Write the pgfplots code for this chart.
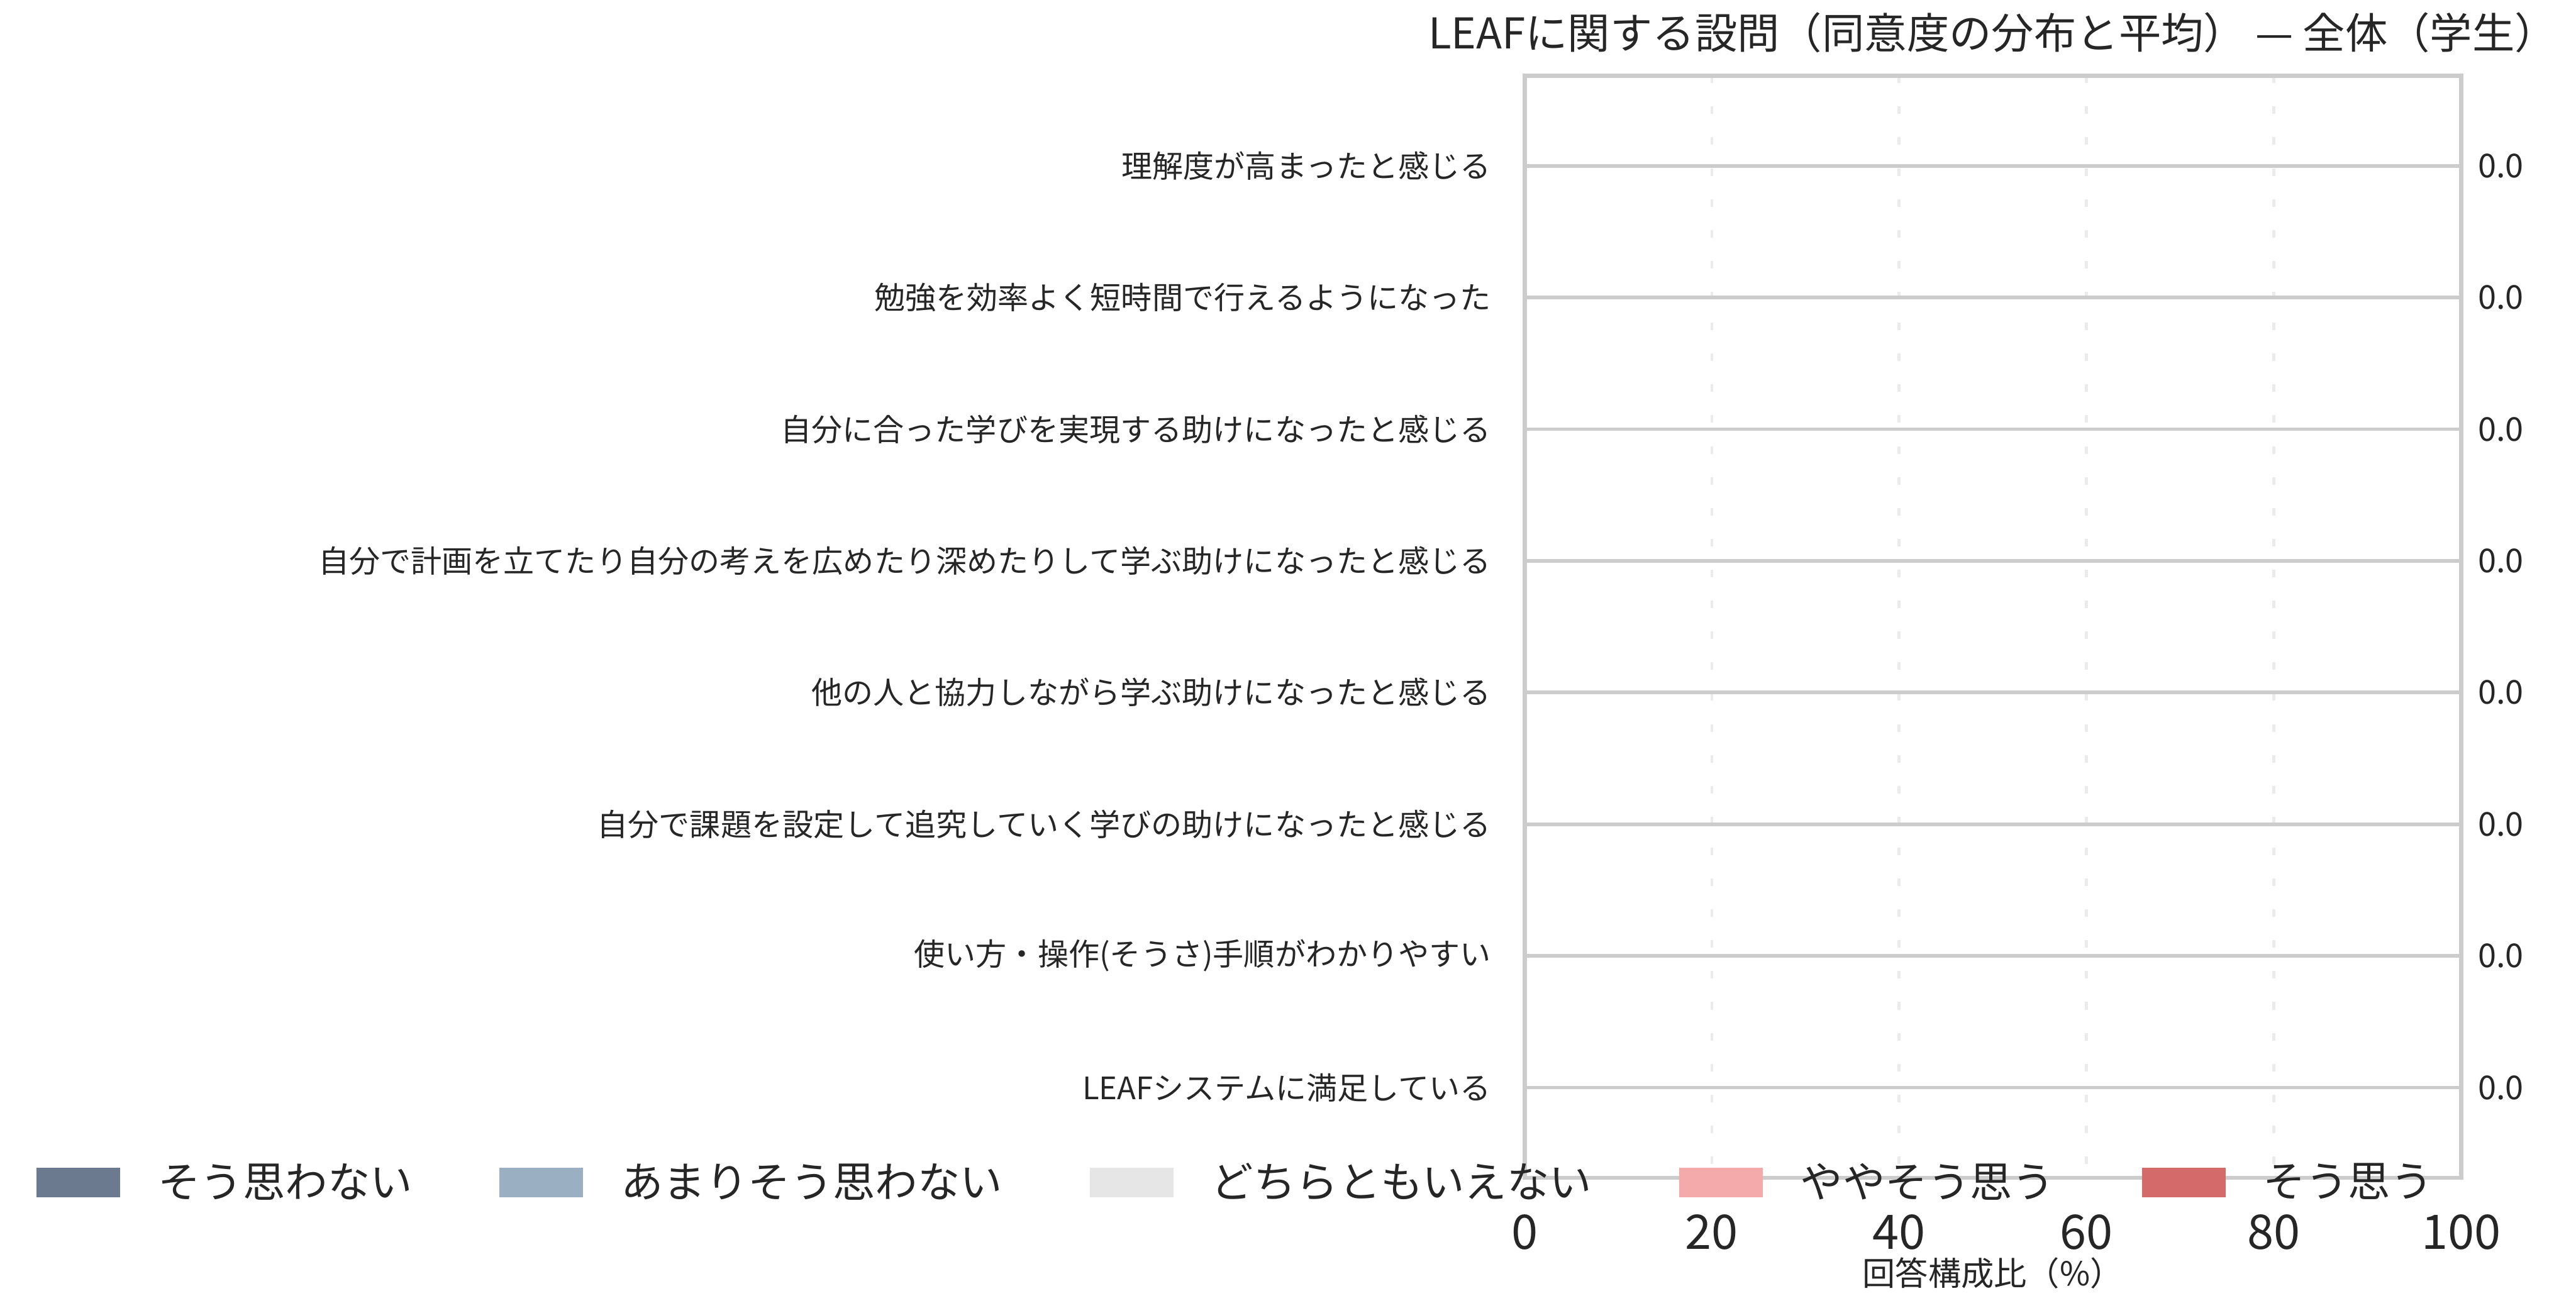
\documentclass[border=0pt]{standalone}
\usepackage{pgfplots}
\pgfplotsset{compat=1.18}
\usepackage{pgfplotstable}
\usepackage{fontspec}
\setmainfont{Noto Sans CJK JP}
\definecolor{cA}{HTML}{6B7A8F}
\definecolor{cB}{HTML}{9BAFC2}
\definecolor{cC}{HTML}{E6E6E6}
\definecolor{cD}{HTML}{F4AAAA}
\definecolor{cE}{HTML}{D46A6A}
\definecolor{axgray}{HTML}{CCCCCC}
\definecolor{gridgray}{HTML}{EBEBEB}
\definecolor{txt}{HTML}{262626}
\pgfplotstableread{
y v1 v2 v3 v4 v5
0 0 0 0 0 0
1 0 0 0 0 0
2 0 0 0 0 0
3 0 0 0 0 0
4 0 0 0 0 0
5 0 0 0 0 0
6 0 0 0 0 0
7 0 0 0 0 0
}\dist
\pgfplotstableread{
x y m
100 0 0.0
100 1 0.0
100 2 0.0
100 3 0.0
100 4 0.0
100 5 0.0
100 6 0.0
100 7 0.0
}\means
\begin{document}
\begin{tikzpicture}
\begin{axis}[
  name=main,
  scale only axis,
  width=285pt, height=335.5pt,
  xbar stacked, bar width=20pt,
  xmin=0, xmax=100, ymin=-0.686, ymax=7.686,
  y dir=reverse,
  xtick={0,20,40,60,80,100},
  ytick={0,1,2,3,4,5,6,7},
  yticklabels={理解度が高まったと感じる,勉強を効率よく短時間で行えるようになった,自分に合った学びを実現する助けになったと感じる,自分で計画を立てたり自分の考えを広めたり深めたりして学ぶ助けになったと感じる,他の人と協力しながら学ぶ助けになったと感じる,自分で課題を設定して追究していく学びの助けになったと感じる,使い方・操作(そうさ)手順がわかりやすい,LEAFシステムに満足している},
  major tick length=0pt,
  axis line style={axgray, line width=1.3pt},
  xmajorgrids, ymajorgrids,
  x grid style={gridgray, line width=0.9pt, dash pattern=on 2.3pt off 7.1pt},
  y grid style={axgray, line width=1.1pt},
  /pgf/number format/assume math mode=true,
  xticklabel style={font=\fontsize{14.5}{16}\selectfont, text=txt, inner sep=0pt, yshift=-11pt},
  yticklabel style={font=\fontsize{9.4}{11}\selectfont, text=txt, inner sep=0pt, xshift=-10pt},
  xlabel={回答構成比（\%）},
  xlabel style={at={(axis description cs:0.5,0)}, anchor=north, yshift=-24pt, inner sep=0pt, font=\fontsize{10}{12}\selectfont, text=txt},
  title={LEAFに関する設問（同意度の分布と平均） — 全体（学生）},
  title style={at={(axis description cs:0.5,1)}, anchor=center, yshift=7pt, inner sep=0pt, font=\fontsize{12.9}{14}\selectfont, text=txt},
  legend columns=5,
  legend image code/.code={\fill[#1] (0pt,-4.5pt) rectangle (25.5pt,4.5pt);},
  legend style={at={(axis description cs:-1.589,-0.0045)}, anchor=west, draw=none, fill=none, inner sep=0pt, outer sep=0pt,
    font=\fontsize{12.9}{14}\selectfont, text=txt,
    /tikz/every odd column/.append style={column sep=9.5pt},
    /tikz/every even column/.append style={column sep=24.5pt}},
  legend cell align=left,
  clip=false,
]
\addplot[draw=none, fill=cA] table[x=v1, y=y] {\dist};
\addlegendentry{そう思わない}
\addplot[draw=none, fill=cB] table[x=v2, y=y] {\dist};
\addlegendentry{あまりそう思わない}
\addplot[draw=none, fill=cC] table[x=v3, y=y] {\dist};
\addlegendentry{どちらともいえない}
\addplot[draw=none, fill=cD] table[x=v4, y=y] {\dist};
\addlegendentry{ややそう思う}
\addplot[draw=none, fill=cE] table[x=v5, y=y] {\dist};
\addlegendentry{そう思う}
\end{axis}
\begin{axis}[
  scale only axis,
  width=285pt, height=335.5pt,
  xmin=0, xmax=100, ymin=-0.686, ymax=7.686,
  y dir=reverse,
  hide axis, clip=false,
]
\addplot[only marks, mark=none, point meta=explicit symbolic,
  nodes near coords,
  nodes near coords style={anchor=west, inner sep=0pt, xshift=5pt, font=\fontsize{10}{12}\selectfont, text=txt}]
  table[x=x, y=y, meta=m] {\means};
\end{axis}
\pgfresetboundingbox
\path[use as bounding box] (main.south west) ++(-464pt,-41pt) rectangle ++(784pt,399.5pt);
\end{tikzpicture}
\end{document}
